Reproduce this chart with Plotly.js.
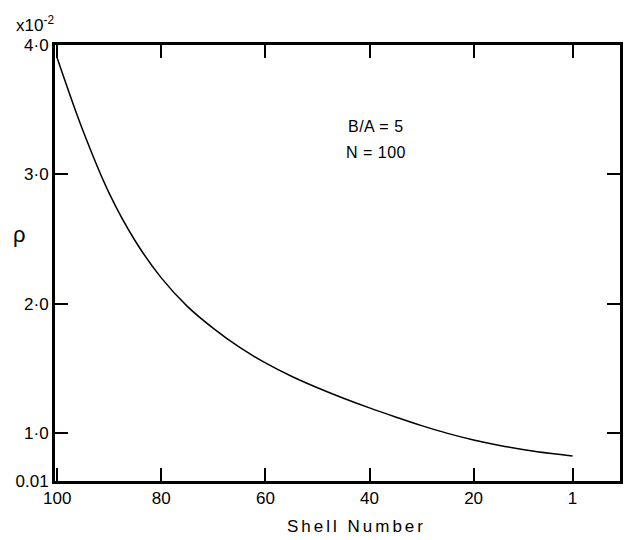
<!DOCTYPE html>
<html>
<head>
<meta charset="utf-8">
<script src="https://cdn.plot.ly/plotly-3.0.1.min.js"></script>
<style>
  html, body { margin: 0; padding: 0; background: #fff; }
  #chart { width: 626px; height: 540px; }
  .annotation-text[data-unformatted="Shell Number"] { letter-spacing: 3px; }
  .annotation-text[data-unformatted="B/A = 5"], .annotation-text[data-unformatted="N = 100"] { letter-spacing: 0.5px; }
</style>
</head>
<body>
<div id="chart"></div>
<script>
// Shell number (x) and density rho (in units of 10^-2)
const shell = [100, 95, 90, 85, 80, 75, 70, 65, 60, 55, 50, 45, 40, 35, 30, 25, 20, 15, 10, 5, 1];
const rho   = [3.90, 3.333, 2.853, 2.485, 2.20, 1.98, 1.81, 1.664, 1.543, 1.44, 1.351, 1.27, 1.195, 1.125, 1.058, 0.998, 0.947, 0.905, 0.870, 0.842, 0.823];

const xTickVals = [100, 80, 60, 40, 20, 1];
const xTickText = ['100', '80', '60', '40', '20', '1'];
const yTickVals = [0.631, 1, 2, 3, 4];
const yTickText = ['0.01', '1·0', '2·0', '3·0', '4·0'];

const FONT = 'Liberation Sans, Arial, sans-serif';

const trace = {
  x: shell, y: rho, type: 'scatter', mode: 'lines',
  line: { color: '#000', width: 1.5, shape: 'spline', smoothing: 1 },
  hoverinfo: 'skip'
};

const axisCommon = {
  showgrid: false, zeroline: false,
  showline: true, linewidth: 3, linecolor: '#000',
  mirror: 'ticks', ticks: 'inside', ticklen: 13, tickwidth: 2, tickcolor: '#000',
  tickfont: { family: FONT, size: 17, color: '#000' }
};

const layout = {
  width: 626, height: 540,
  margin: { l: 55, r: 6, t: 45, b: 59 },
  paper_bgcolor: '#fff', plot_bgcolor: '#fff',
  showlegend: false,
  xaxis: Object.assign({}, axisCommon, {
    range: [100.42, -8.12], tickmode: 'array', tickvals: xTickVals, ticktext: xTickText
  }),
  yaxis: Object.assign({}, axisCommon, {
    range: [0.63, 4.0], tickmode: 'array', tickvals: yTickVals, ticktext: yTickText
  }),
  annotations: [
    { text: 'x10<sup>-2</sup>', xref: 'paper', yref: 'paper', x: -0.072, y: 1.048,
      xanchor: 'left', yanchor: 'middle', showarrow: false,
      font: { family: FONT, size: 17, color: '#000' } },
    { text: 'ρ', xref: 'paper', yref: 'paper', x: -0.062, y: 0.565,
      xanchor: 'center', yanchor: 'middle', showarrow: false,
      font: { family: FONT, size: 22, color: '#000' } },
    { text: 'B/A = 5', xref: 'paper', yref: 'paper', x: 0.568, y: 0.814,
      xanchor: 'center', yanchor: 'middle', showarrow: false,
      font: { family: FONT, size: 16, color: '#000' } },
    { text: 'N = 100', xref: 'paper', yref: 'paper', x: 0.568, y: 0.754,
      xanchor: 'center', yanchor: 'middle', showarrow: false,
      font: { family: FONT, size: 16, color: '#000' } },
    { text: 'Shell Number', xref: 'paper', yref: 'paper', x: 0.534, y: -0.105,
      xanchor: 'center', yanchor: 'middle', showarrow: false,
      font: { family: FONT, size: 17, color: '#000' } }
  ]
};

Plotly.newPlot('chart', [trace], layout, { displayModeBar: false, staticPlot: true });
</script>
</body>
</html>
